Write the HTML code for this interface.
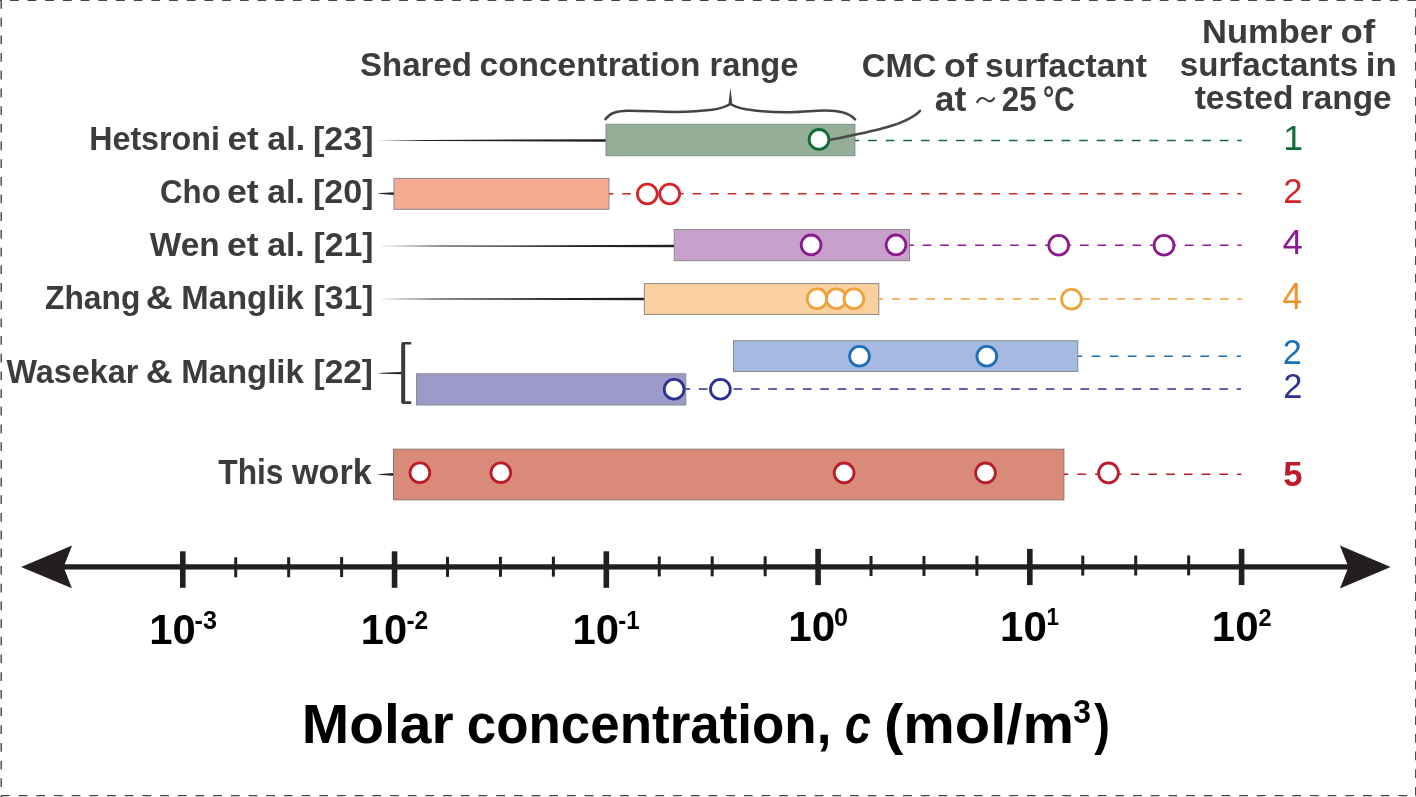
<!DOCTYPE html>
<html><head><meta charset="utf-8"><style>
html,body{margin:0;padding:0;background:#fff;}
svg{display:block;will-change:transform;}
text{font-family:"Liberation Sans",sans-serif;}
</style></head><body>
<svg width="1416" height="797" viewBox="0 0 1416 797">
<rect width="1416" height="797" fill="#fff"/>
<line x1="0" y1="0.5" x2="1416" y2="0.5" stroke="#444" stroke-width="1.2" stroke-dasharray="8.75 8.94" stroke-dashoffset="7.79"/>
<line x1="1.2" y1="0" x2="1.2" y2="797" stroke="#444" stroke-width="1.4" stroke-dasharray="8.75 8.94" stroke-dashoffset="0"/>
<line x1="0" y1="795.6" x2="1416" y2="795.6" stroke="#444" stroke-width="1.2" stroke-dasharray="8.75 8.94" stroke-dashoffset="16.79"/>
<line x1="1415.6" y1="0" x2="1415.6" y2="797" stroke="#444" stroke-width="1.1" stroke-dasharray="8.75 8.94" stroke-dashoffset="9.09"/>
<polygon points="377.00,140.40 427.38,139.90 606.00,139.15 606.00,141.65 427.38,140.90" fill="#231f20"/>
<polygon points="377.30,193.60 380.97,193.10 394.00,192.25 394.00,194.95 380.97,194.10" fill="#231f20"/>
<polygon points="377.90,246.10 443.11,245.60 674.30,244.85 674.30,247.35 443.11,246.60" fill="#231f20"/>
<polygon points="377.50,299.00 436.22,298.50 644.40,297.75 644.40,300.25 436.22,299.50" fill="#231f20"/>
<polygon points="377.60,373.20 382.97,372.76 402.00,372.10 402.00,374.30 382.97,373.64" fill="#231f20"/>
<polygon points="377.30,474.40 380.86,473.90 393.50,473.00 393.50,475.80 380.86,474.90" fill="#231f20"/>
<path d="M411.2,342 H403 Q401.2,342 401.2,344 V402 Q401.2,404.1 403,404.1 H411.2 V401.3 H405.2 V344.6 H411.2 Z" fill="#3c3c3e"/>
<rect x="606.00" y="124.30" width="248.90" height="31.40" fill="#95ae98" stroke="#8a8a8a" stroke-width="1"/>
<line x1="854.90" y1="140.40" x2="1241.70" y2="140.40" stroke="#0f6b38" stroke-width="1.50" stroke-dasharray="8.700 8.882" stroke-dashoffset="4.350"/>
<rect x="394.00" y="178.40" width="215.00" height="30.90" fill="#f6ab91" stroke="#8a8a8a" stroke-width="1"/>
<line x1="609.00" y1="193.70" x2="1241.70" y2="193.70" stroke="#d3262a" stroke-width="1.50" stroke-dasharray="8.700 8.875" stroke-dashoffset="4.350"/>
<rect x="674.30" y="229.50" width="235.20" height="31.20" fill="#c8a0cc" stroke="#8a8a8a" stroke-width="1"/>
<line x1="909.50" y1="245.30" x2="1241.70" y2="245.30" stroke="#8b1b8f" stroke-width="1.50" stroke-dasharray="8.700 8.784" stroke-dashoffset="4.350"/>
<rect x="644.40" y="283.60" width="234.40" height="30.90" fill="#fbd0a1" stroke="#8a8a8a" stroke-width="1"/>
<line x1="878.80" y1="299.00" x2="1241.70" y2="299.00" stroke="#f0a23a" stroke-width="1.50" stroke-dasharray="8.700 8.581" stroke-dashoffset="4.350"/>
<rect x="733.50" y="340.70" width="344.30" height="30.80" fill="#a7b9e1" stroke="#8a8a8a" stroke-width="1"/>
<line x1="1077.80" y1="356.20" x2="1241.00" y2="356.20" stroke="#1c6fb7" stroke-width="1.50" stroke-dasharray="8.700 9.433" stroke-dashoffset="4.350"/>
<rect x="416.50" y="373.80" width="269.30" height="31.20" fill="#9c9ac8" stroke="#8a8a8a" stroke-width="1"/>
<line x1="685.80" y1="388.90" x2="1241.00" y2="388.90" stroke="#2e3192" stroke-width="1.50" stroke-dasharray="8.700 8.650" stroke-dashoffset="4.350"/>
<rect x="393.50" y="449.20" width="670.40" height="50.60" fill="#d98a78" stroke="#8a7470" stroke-width="1"/>
<line x1="1063.90" y1="474.30" x2="1241.50" y2="474.30" stroke="#bb1a2b" stroke-width="1.50" stroke-dasharray="8.700 9.060" stroke-dashoffset="4.350"/>
<circle cx="819.00" cy="139.40" r="9.90" fill="#fff" stroke="#0f6b38" stroke-width="2.80"/>
<circle cx="647.30" cy="194.00" r="9.90" fill="#fff" stroke="#d3262a" stroke-width="2.80"/>
<circle cx="669.70" cy="194.00" r="9.90" fill="#fff" stroke="#d3262a" stroke-width="2.80"/>
<circle cx="811.10" cy="244.90" r="9.90" fill="#fff" stroke="#8b1b8f" stroke-width="2.80"/>
<circle cx="896.00" cy="244.90" r="9.90" fill="#fff" stroke="#8b1b8f" stroke-width="2.80"/>
<circle cx="1058.70" cy="245.20" r="9.90" fill="#fff" stroke="#8b1b8f" stroke-width="2.80"/>
<circle cx="1164.00" cy="245.20" r="9.90" fill="#fff" stroke="#8b1b8f" stroke-width="2.80"/>
<circle cx="817.10" cy="298.70" r="9.90" fill="#fff" stroke="#f0a23a" stroke-width="2.80"/>
<circle cx="836.30" cy="298.70" r="9.90" fill="#fff" stroke="#f0a23a" stroke-width="2.80"/>
<circle cx="853.90" cy="298.70" r="9.90" fill="#fff" stroke="#f0a23a" stroke-width="2.80"/>
<circle cx="1071.50" cy="299.20" r="9.90" fill="#fff" stroke="#f0a23a" stroke-width="2.80"/>
<circle cx="859.50" cy="356.20" r="9.90" fill="#fff" stroke="#1c6fb7" stroke-width="2.80"/>
<circle cx="986.80" cy="356.20" r="9.90" fill="#fff" stroke="#1c6fb7" stroke-width="2.80"/>
<circle cx="674.10" cy="389.20" r="9.90" fill="#fff" stroke="#2e3192" stroke-width="2.80"/>
<circle cx="720.40" cy="389.20" r="9.90" fill="#fff" stroke="#2e3192" stroke-width="2.80"/>
<circle cx="419.90" cy="472.70" r="9.90" fill="#fff" stroke="#bb1a2b" stroke-width="2.80"/>
<circle cx="500.80" cy="472.70" r="9.90" fill="#fff" stroke="#bb1a2b" stroke-width="2.80"/>
<circle cx="844.10" cy="472.90" r="9.90" fill="#fff" stroke="#bb1a2b" stroke-width="2.80"/>
<circle cx="985.50" cy="472.90" r="9.90" fill="#fff" stroke="#bb1a2b" stroke-width="2.80"/>
<circle cx="1108.50" cy="472.90" r="9.90" fill="#fff" stroke="#bb1a2b" stroke-width="2.80"/>
<path d="M605.5,119.2 C609,113.5 616,110.8 627.5,110.7 C645,110.6 660,112 675,111.9 C690,111.8 703,111 712,109.8 C720,108.6 727,106 730.4,104 C733.8,106 739,108 746,109.3 C760,111.5 775,112.4 790,112.2 C805,112 813,110.7 824,110.6 C838,110.5 849,112.5 855,119.4" fill="none" stroke="#444446" stroke-width="2.5" stroke-linecap="round" stroke-linejoin="round"/>
<polygon points="730.4,87.6 731.9,100 732.2,104.8 728.6,104.8 728.9,100" fill="#444446"/>
<path d="M830,139.8 C875,131 908,124 920,110.8" fill="none" stroke="#4a4a4c" stroke-width="2.6" stroke-linecap="round"/>
<path d="M976.8,103 C979,97.5 983,97 986,99.5 C989,102 992,102.5 994.5,97.5" fill="none" stroke="#3c3c3e" stroke-width="2.1"/>
<rect x="60" y="564.25" width="1290" height="5.3" fill="#231f20"/>
<polygon points="21.1,566.9 72.1,545.4 63.6,566.9 71.9,588.2" fill="#231f20"/>
<polygon points="1390.7,566.9 1339.9,545.4 1348.4,566.9 1339.9,588.5" fill="#231f20"/>
<rect x="180.00" y="551.30" width="5.6" height="36.50" fill="#231f20"/>
<rect x="234.24" y="557.30" width="3" height="20" fill="#231f20"/>
<rect x="287.18" y="557.19" width="3" height="20" fill="#231f20"/>
<rect x="340.12" y="557.09" width="3" height="20" fill="#231f20"/>
<rect x="391.76" y="551.30" width="5.6" height="36.50" fill="#231f20"/>
<rect x="446.00" y="556.88" width="3" height="20" fill="#231f20"/>
<rect x="498.94" y="556.77" width="3" height="20" fill="#231f20"/>
<rect x="551.88" y="556.67" width="3" height="20" fill="#231f20"/>
<rect x="603.52" y="551.30" width="5.6" height="36.50" fill="#231f20"/>
<rect x="657.76" y="556.45" width="3" height="20" fill="#231f20"/>
<rect x="710.70" y="556.35" width="3" height="20" fill="#231f20"/>
<rect x="763.64" y="556.24" width="3" height="20" fill="#231f20"/>
<rect x="815.28" y="548.90" width="5.6" height="36.20" fill="#231f20"/>
<rect x="869.52" y="556.03" width="3" height="20" fill="#231f20"/>
<rect x="922.46" y="555.93" width="3" height="20" fill="#231f20"/>
<rect x="975.40" y="555.82" width="3" height="20" fill="#231f20"/>
<rect x="1027.04" y="548.90" width="5.6" height="36.20" fill="#231f20"/>
<rect x="1081.28" y="555.61" width="3" height="20" fill="#231f20"/>
<rect x="1134.22" y="555.51" width="3" height="20" fill="#231f20"/>
<rect x="1187.16" y="555.40" width="3" height="20" fill="#231f20"/>
<rect x="1238.80" y="548.90" width="5.6" height="36.20" fill="#231f20"/>
<text id="t_shared_0" x="360.07" y="76.20" font-size="34.01" font-weight="bold" fill="#3c3c3e" textLength="111.87" lengthAdjust="spacingAndGlyphs">Shared</text>
<text id="t_shared_1" x="479.55" y="76.20" font-size="34.01" font-weight="bold" fill="#3c3c3e" textLength="220.98" lengthAdjust="spacingAndGlyphs">concentration</text>
<text id="t_shared_2" x="709.60" y="76.20" font-size="34.01" font-weight="bold" fill="#3c3c3e" textLength="88.68" lengthAdjust="spacingAndGlyphs">range</text>
<text id="t_cmc1_0" x="861.85" y="76.80" font-size="33.72" font-weight="bold" fill="#3c3c3e" textLength="74.65" lengthAdjust="spacingAndGlyphs">CMC</text>
<text id="t_cmc1_1" x="943.95" y="76.80" font-size="33.72" font-weight="bold" fill="#3c3c3e" textLength="33.83" lengthAdjust="spacingAndGlyphs">of</text>
<text id="t_cmc1_2" x="985.11" y="76.80" font-size="33.72" font-weight="bold" fill="#3c3c3e" textLength="161.76" lengthAdjust="spacingAndGlyphs">surfactant</text>
<text id="t_at_0" x="934.80" y="110.70" font-size="34.59" font-weight="bold" fill="#3c3c3e" textLength="31.49" lengthAdjust="spacingAndGlyphs">at</text>
<text id="t_at_1" x="1001.78" y="110.70" font-size="34.59" font-weight="bold" fill="#3c3c3e" textLength="34.76" lengthAdjust="spacingAndGlyphs">25</text>
<text id="t_at_2" x="1043.04" y="110.70" font-size="34.59" font-weight="bold" fill="#3c3c3e" textLength="31.73" lengthAdjust="spacingAndGlyphs">°C</text>
<text id="t_num1_0" x="1202.02" y="42.70" font-size="34.01" font-weight="bold" fill="#3c3c3e" textLength="130.48" lengthAdjust="spacingAndGlyphs">Number</text>
<text id="t_num1_1" x="1340.56" y="42.70" font-size="34.01" font-weight="bold" fill="#3c3c3e" textLength="34.55" lengthAdjust="spacingAndGlyphs">of</text>
<text id="t_num2_0" x="1179.81" y="75.80" font-size="34.01" font-weight="bold" fill="#3c3c3e" textLength="178.30" lengthAdjust="spacingAndGlyphs">surfactants</text>
<text id="t_num2_1" x="1365.81" y="75.80" font-size="34.01" font-weight="bold" fill="#3c3c3e" textLength="31.01" lengthAdjust="spacingAndGlyphs">in</text>
<text id="t_num3_0" x="1194.67" y="109.20" font-size="34.01" font-weight="bold" fill="#3c3c3e" textLength="98.80" lengthAdjust="spacingAndGlyphs">tested</text>
<text id="t_num3_1" x="1300.82" y="109.20" font-size="34.01" font-weight="bold" fill="#3c3c3e" textLength="90.77" lengthAdjust="spacingAndGlyphs">range</text>
<text id="r1_0" x="89.17" y="150.10" font-size="33.58" font-weight="bold" fill="#3c3c3e" textLength="130.81" lengthAdjust="spacingAndGlyphs">Hetsroni</text>
<text id="r1_1" x="227.51" y="150.10" font-size="33.58" font-weight="bold" fill="#3c3c3e" textLength="31.20" lengthAdjust="spacingAndGlyphs">et</text>
<text id="r1_2" x="267.16" y="150.10" font-size="33.58" font-weight="bold" fill="#3c3c3e" textLength="37.97" lengthAdjust="spacingAndGlyphs">al.</text>
<text id="r1_3" x="313.04" y="150.10" font-size="33.58" font-weight="bold" fill="#3c3c3e" textLength="60.52" lengthAdjust="spacingAndGlyphs">[23]</text>
<text id="r2_0" x="160.08" y="203.30" font-size="33.58" font-weight="bold" fill="#3c3c3e" textLength="60.60" lengthAdjust="spacingAndGlyphs">Cho</text>
<text id="r2_1" x="226.97" y="203.30" font-size="33.58" font-weight="bold" fill="#3c3c3e" textLength="31.75" lengthAdjust="spacingAndGlyphs">et</text>
<text id="r2_2" x="267.16" y="203.30" font-size="33.58" font-weight="bold" fill="#3c3c3e" textLength="37.49" lengthAdjust="spacingAndGlyphs">al.</text>
<text id="r2_3" x="313.01" y="203.30" font-size="33.58" font-weight="bold" fill="#3c3c3e" textLength="60.50" lengthAdjust="spacingAndGlyphs">[20]</text>
<text id="r3_0" x="149.82" y="255.60" font-size="33.72" font-weight="bold" fill="#3c3c3e" textLength="69.75" lengthAdjust="spacingAndGlyphs">Wen</text>
<text id="r3_1" x="226.97" y="255.60" font-size="33.72" font-weight="bold" fill="#3c3c3e" textLength="31.55" lengthAdjust="spacingAndGlyphs">et</text>
<text id="r3_2" x="267.19" y="255.60" font-size="33.72" font-weight="bold" fill="#3c3c3e" textLength="37.47" lengthAdjust="spacingAndGlyphs">al.</text>
<text id="r3_3" x="313.41" y="255.60" font-size="33.72" font-weight="bold" fill="#3c3c3e" textLength="59.96" lengthAdjust="spacingAndGlyphs">[21]</text>
<text id="r4_0" x="45.00" y="308.90" font-size="33.29" font-weight="bold" fill="#3c3c3e" textLength="95.29" lengthAdjust="spacingAndGlyphs">Zhang</text>
<text id="r4_1" x="145.67" y="308.90" font-size="33.29" font-weight="bold" fill="#3c3c3e" textLength="26.91" lengthAdjust="spacingAndGlyphs">&amp;</text>
<text id="r4_2" x="181.35" y="308.90" font-size="33.29" font-weight="bold" fill="#3c3c3e" textLength="122.38" lengthAdjust="spacingAndGlyphs">Manglik</text>
<text id="r4_3" x="313.47" y="308.90" font-size="33.29" font-weight="bold" fill="#3c3c3e" textLength="59.97" lengthAdjust="spacingAndGlyphs">[31]</text>
<text id="r5_0" x="6.47" y="382.70" font-size="32.85" font-weight="bold" fill="#3c3c3e" textLength="131.80" lengthAdjust="spacingAndGlyphs">Wasekar</text>
<text id="r5_1" x="145.71" y="382.70" font-size="32.85" font-weight="bold" fill="#3c3c3e" textLength="26.87" lengthAdjust="spacingAndGlyphs">&amp;</text>
<text id="r5_2" x="181.33" y="382.70" font-size="32.85" font-weight="bold" fill="#3c3c3e" textLength="122.40" lengthAdjust="spacingAndGlyphs">Manglik</text>
<text id="r5_3" x="313.49" y="382.70" font-size="32.85" font-weight="bold" fill="#3c3c3e" textLength="59.53" lengthAdjust="spacingAndGlyphs">[22]</text>
<text id="r6_0" x="218.33" y="484.10" font-size="34.88" font-weight="bold" fill="#3c3c3e" textLength="65.14" lengthAdjust="spacingAndGlyphs">This</text>
<text id="r6_1" x="292.01" y="484.10" font-size="34.88" font-weight="bold" fill="#3c3c3e" textLength="79.73" lengthAdjust="spacingAndGlyphs">work</text>
<text id="n1" x="1283.20" y="149.50" font-size="35.61" font-weight="normal" fill="#0f6b38" textLength="19.89" lengthAdjust="spacingAndGlyphs">1</text>
<text id="n2" x="1283.22" y="202.50" font-size="35.03" font-weight="normal" fill="#d2232a" textLength="19.32" lengthAdjust="spacingAndGlyphs">2</text>
<text id="n3" x="1282.55" y="254.30" font-size="35.76" font-weight="normal" fill="#8b1b8f" textLength="20.27" lengthAdjust="spacingAndGlyphs">4</text>
<text id="n4" x="1282.62" y="308.70" font-size="36.05" font-weight="normal" fill="#f0922a" textLength="19.70" lengthAdjust="spacingAndGlyphs">4</text>
<text id="n5" x="1282.70" y="363.90" font-size="35.32" font-weight="normal" fill="#1c6fb7" textLength="19.04" lengthAdjust="spacingAndGlyphs">2</text>
<text id="n6" x="1283.19" y="398.30" font-size="35.32" font-weight="normal" fill="#2e3192" textLength="19.19" lengthAdjust="spacingAndGlyphs">2</text>
<text id="n7" x="1283.32" y="486.30" font-size="35.90" font-weight="bold" fill="#c1192d" textLength="19.27" lengthAdjust="spacingAndGlyphs">5</text>
<text id="ax1_0" x="301.84" y="742.50" font-size="55.23" font-weight="bold" fill="#000" textLength="151.84" lengthAdjust="spacingAndGlyphs">Molar</text>
<text id="ax1_1" x="466.74" y="742.50" font-size="55.23" font-weight="bold" fill="#000" textLength="364.65" lengthAdjust="spacingAndGlyphs">concentration,</text>
<text id="ax2" x="844.82" y="742.50" font-size="55.23" font-weight="bold" font-style="italic" fill="#000" textLength="26.28" lengthAdjust="spacingAndGlyphs">c</text>
<text id="ax3" x="884.00" y="742.50" font-size="55.23" font-weight="bold" fill="#000" textLength="190.03" lengthAdjust="spacingAndGlyphs">(mol/m</text>
<text id="ax4" x="1073.35" y="722.80" font-size="32.85" font-weight="bold" fill="#000" textLength="17.78" lengthAdjust="spacingAndGlyphs">3</text>
<text id="ax5" x="1094.19" y="742.50" font-size="55.23" font-weight="bold" fill="#000" textLength="15.69" lengthAdjust="spacingAndGlyphs">)</text>
<text id="tk0" x="149.15" y="643.90" font-size="42.44" font-weight="bold" fill="#000" textLength="46.49" lengthAdjust="spacingAndGlyphs">10</text>
<text id="ts0" x="194.52" y="629.20" font-size="25.58" font-weight="bold" fill="#000" textLength="22.40" lengthAdjust="spacingAndGlyphs">-3</text>
<text id="tk1" x="360.83" y="643.90" font-size="42.44" font-weight="bold" fill="#000" textLength="46.41" lengthAdjust="spacingAndGlyphs">10</text>
<text id="ts1" x="406.42" y="628.90" font-size="25.15" font-weight="bold" fill="#000" textLength="21.76" lengthAdjust="spacingAndGlyphs">-2</text>
<text id="tk2" x="572.51" y="643.90" font-size="42.44" font-weight="bold" fill="#000" textLength="46.64" lengthAdjust="spacingAndGlyphs">10</text>
<text id="ts2" x="618.21" y="628.90" font-size="25.15" font-weight="bold" fill="#000" textLength="21.35" lengthAdjust="spacingAndGlyphs">-1</text>
<text id="tk3" x="788.26" y="641.40" font-size="42.88" font-weight="bold" fill="#000" textLength="46.89" lengthAdjust="spacingAndGlyphs">10</text>
<text id="ts3" x="834.10" y="626.30" font-size="25.44" font-weight="bold" fill="#000" textLength="14.01" lengthAdjust="spacingAndGlyphs">0</text>
<text id="tk4" x="1000.04" y="640.50" font-size="42.01" font-weight="bold" fill="#000" textLength="46.83" lengthAdjust="spacingAndGlyphs">10</text>
<text id="ts4" x="1046.59" y="625.40" font-size="24.56" font-weight="bold" fill="#000" textLength="12.45" lengthAdjust="spacingAndGlyphs">1</text>
<text id="tk5" x="1211.85" y="640.70" font-size="41.72" font-weight="bold" fill="#000" textLength="46.74" lengthAdjust="spacingAndGlyphs">10</text>
<text id="ts5" x="1258.56" y="625.70" font-size="24.56" font-weight="bold" fill="#000" textLength="13.08" lengthAdjust="spacingAndGlyphs">2</text>
</svg>
</body></html>
